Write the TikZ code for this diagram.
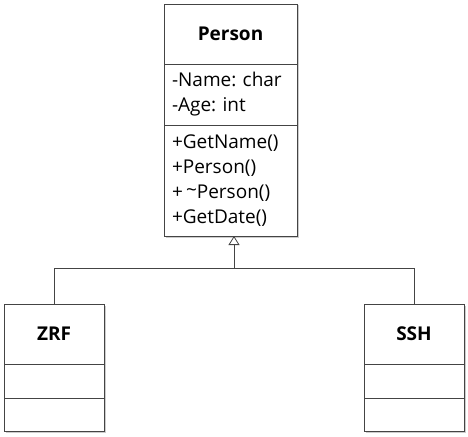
\documentclass[tikz,border=0pt]{standalone}
\usepackage{fontspec}
\setmainfont{Open Sans}
\frenchspacing
\usetikzlibrary{arrows.meta,shadows,fit,backgrounds}
\definecolor{linecol}{HTML}{444444}
\tikzset{
  comp/.style={draw=linecol, fill=white, line width=0.8pt, rectangle, inner sep=0pt, outer sep=0pt},
  titolo/.style={comp, font=\fontsize{19}{25}\selectfont\bfseries, align=center},
  elenco/.style={comp, font=\fontsize{19}{25}\selectfont, align=left, inner xsep=8pt, text width=#1},
  ombra/.style={inner sep=0pt, outer sep=0pt, fill=white, drop shadow={shadow xshift=1.5pt, shadow yshift=-1.5pt, opacity=0.4}},
  freccia/.style={draw=linecol, line width=0.8pt}
}
\begin{document}
\begin{tikzpicture}[x=1pt, y=-1pt]
  \useasboundingbox (0,0) rectangle (468,436);
  % Nodi
  \node[titolo, minimum width=133pt, minimum height=60pt] (person) at (230.5, 34) {Person};
  \node[elenco=117pt, minimum height=61pt] (attr) at (230.5, 94.5) {-Name: char\\-Age: int};
  \node[elenco=117pt, minimum height=111pt] (metodi) at (230.5, 180.5) {+GetName()\\+Person()\\+\,\raisebox{0.2ex}{\char`\~}Person()\\+GetDate()};

  \node[titolo, minimum width=100pt, minimum height=60pt] (zrf) at (54, 334) {ZRF};
  \node[comp, minimum width=100pt, minimum height=34pt] (zrfattr) at (54, 381) {};
  \node[comp, minimum width=100pt, minimum height=33pt] (zrfmet) at (54, 414.5) {};

  \node[titolo, minimum width=100pt, minimum height=60pt] (ssh) at (414, 334) {SSH};
  \node[comp, minimum width=100pt, minimum height=34pt] (sshattr) at (414, 381) {};
  \node[comp, minimum width=100pt, minimum height=33pt] (sshmet) at (414, 414.5) {};

  \begin{scope}[on background layer]
    \node[ombra, fit=(person)(metodi)] {};
    \node[ombra, fit=(zrf)(zrfmet)] {};
    \node[ombra, fit=(ssh)(sshmet)] {};
  \end{scope}

  % Archi
  \coordinate (giunto) at (234, 268);
  \draw[freccia] (zrf.north) |- (giunto);
  \draw[freccia] (ssh.north) |- (giunto);
  \draw[freccia, -{Triangle[open, width=11pt, length=9pt]}] (giunto) -- (metodi.south -| giunto);
\end{tikzpicture}
\end{document}
